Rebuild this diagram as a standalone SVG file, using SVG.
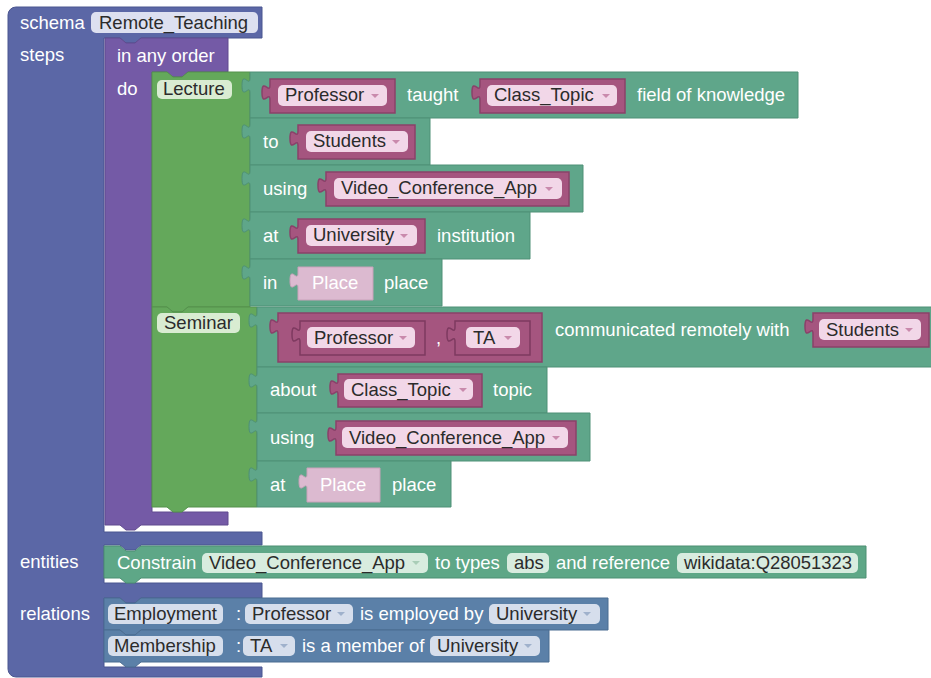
<svg xmlns="http://www.w3.org/2000/svg" width="931" height="678" viewBox="0 0 931 678">
<defs>
<style>
text{font-family:"Liberation Sans",Arial,Helvetica,sans-serif;font-size:18.5px}
.w{fill:#ffffff}
.d{fill:#2b2b2b}
.schema{fill:#5b67a6;stroke:#4b5690;stroke-width:1}
.order{fill:#745aa6;stroke:#614a8f;stroke-width:1}
.step{fill:#64a85b;stroke:#54914c;stroke-width:1}
.row{fill:#5fa68a;stroke:#4f9077;stroke-width:1}
.val{fill:#a5557f;stroke:#8a416a;stroke-width:1.5}
.slot{fill:#a5557f;stroke:#7e3a60;stroke-width:1.5}
.place{fill:#dcbad0;stroke:#c9a2ba;stroke-width:1}
.ent{fill:#5ea787;stroke:#4d8f72;stroke-width:1}
.rel{fill:#5b80a8;stroke:#4b6c91;stroke-width:1}
.pk{fill:#f2d7e8}
.pg{fill:#d8ecdf}
.pb{fill:#d6deec}
.ps{fill:#dde0f0}
.pl{fill:#d9ecd2}
.ak{fill:#c98aac}
.ag{fill:#a9cdb7}
.ab{fill:#9fb1cc}
</style>
<path id="arrow" d="M0,0h8l-4,4z"/>
</defs>

<!-- schema container -->
<g id="schema">
<path class="schema" d="M8,15a8,8 0 0 1 8,-8H262V38H141l-6,5h-9l-6,-5H104V532H262V545H141l-6,5h-9l-6,-5H104V583H262V598H141l-6,5h-9l-6,-5H104V667H262V677H16a8,8 0 0 1 -8,-8Z"/>
<text class="w" x="20" y="29">schema</text>
<rect class="ps" x="91" y="12" width="167" height="21" rx="5"/>
<text class="d" x="99" y="29">Remote_Teaching</text>
<text class="w" x="20" y="61">steps</text>
<text class="w" x="20" y="568">entities</text>
<text class="w" x="20" y="620">relations</text>
</g>

<!-- in any order -->
<g id="anyOrder">
<path class="order" d="M105,38H120l6,5h9l6,-5H228V72H188l-6,5h-9l-6,-5H152V512H228V525H141l-6,5h-9l-6,-5H105Z"/>
<text class="w" x="117" y="62">in any order</text>
<text class="w" x="117" y="95">do</text>
</g>

<!-- Lecture step -->
<g id="lecture">
<path class="step" d="M152,72H167l6,5h9l6,-5H250V307H188l-6,5h-9l-6,-5H152Z"/>
<rect class="pl" x="157" y="80" width="75" height="19" rx="5"/>
<text class="d" x="163" y="95">Lecture</text>
</g>

<!-- Seminar step -->
<g id="seminar">
<path class="step" d="M152,307H167l6,5h9l6,-5H257V507H188l-6,5h-9l-6,-5H152Z"/>
<rect class="pl" x="157" y="313" width="83" height="20" rx="5"/>
<text class="d" x="164" y="329">Seminar</text>
</g>

<!-- Lecture clauses -->
<g id="lecture-taught">
<path class="row" transform="translate(250,72)" d="M0,0H548V46H0V21c0,-10 -8,8 -8,-7.5s8,2.5 8,-7.5Z"/>
<path class="val" transform="translate(270,79)" d="M0,0H125V34H0V21c0,-10 -8,8 -8,-7.5s8,2.5 8,-7.5Z"/>
<rect class="pk" x="278" y="85" width="109" height="21" rx="5"/>
<text class="d" x="285" y="101">Professor</text>
<use href="#arrow" class="ak" x="371" y="94"/>
<text class="w" x="407" y="101">taught</text>
<path class="val" transform="translate(480,79)" d="M0,0H145V34H0V21c0,-10 -8,8 -8,-7.5s8,2.5 8,-7.5Z"/>
<rect class="pk" x="487" y="85" width="130" height="21" rx="5"/>
<text class="d" x="494" y="101">Class_Topic</text>
<use href="#arrow" class="ak" x="602" y="94"/>
<text class="w" x="637" y="101">field of knowledge</text>
</g>

<g id="lecture-to">
<path class="row" transform="translate(250,118)" d="M0,0H180V47H0V21c0,-10 -8,8 -8,-7.5s8,2.5 8,-7.5Z"/>
<text class="w" x="263" y="148">to</text>
<path class="val" transform="translate(298,125)" d="M0,0H117V34H0V21c0,-10 -8,8 -8,-7.5s8,2.5 8,-7.5Z"/>
<rect class="pk" x="306" y="131" width="102" height="21" rx="5"/>
<text class="d" x="313" y="147">Students</text>
<use href="#arrow" class="ak" x="392" y="140"/>
</g>

<g id="lecture-using">
<path class="row" transform="translate(250,165)" d="M0,0H333V47H0V21c0,-10 -8,8 -8,-7.5s8,2.5 8,-7.5Z"/>
<text class="w" x="263" y="195">using</text>
<path class="val" transform="translate(326,172)" d="M0,0H243V34H0V21c0,-10 -8,8 -8,-7.5s8,2.5 8,-7.5Z"/>
<rect class="pk" x="334" y="178" width="228" height="21" rx="5"/>
<text class="d" x="341" y="194">Video_Conference_App</text>
<use href="#arrow" class="ak" x="545" y="187"/>
</g>

<g id="lecture-at">
<path class="row" transform="translate(250,212)" d="M0,0H280V47H0V21c0,-10 -8,8 -8,-7.5s8,2.5 8,-7.5Z"/>
<text class="w" x="263" y="242">at</text>
<path class="val" transform="translate(298,219)" d="M0,0H127V34H0V21c0,-10 -8,8 -8,-7.5s8,2.5 8,-7.5Z"/>
<rect class="pk" x="306" y="225" width="111" height="21" rx="5"/>
<text class="d" x="313" y="241">University</text>
<use href="#arrow" class="ak" x="400" y="234"/>
<text class="w" x="437" y="242">institution</text>
</g>

<g id="lecture-in">
<path class="row" transform="translate(250,259)" d="M0,0H192V47H0V21c0,-10 -8,8 -8,-7.5s8,2.5 8,-7.5Z"/>
<text class="w" x="263" y="289">in</text>
<path class="place" transform="translate(298,267)" d="M0,0H75V33H0V21c0,-10 -8,8 -8,-7.5s8,2.5 8,-7.5Z"/>
<text class="w" x="312" y="289">Place</text>
<text class="w" x="384" y="289">place</text>
</g>

<!-- Seminar clauses -->
<g id="seminar-communicated">
<path class="row" transform="translate(257,307)" d="M0,0H680V60H0V21c0,-10 -8,8 -8,-7.5s8,2.5 8,-7.5Z"/>
<path class="val" transform="translate(278,313)" d="M0,0H264V49H0V21c0,-10 -8,8 -8,-7.5s8,2.5 8,-7.5Z"/>
<path class="slot" transform="translate(300,321)" d="M0,0H125V34H0V21c0,-10 -8,8 -8,-7.5s8,2.5 8,-7.5Z"/>
<rect class="pk" x="307" y="327" width="108" height="21" rx="5"/>
<text class="d" x="314" y="344">Professor</text>
<use href="#arrow" class="ak" x="399" y="336"/>
<text class="w" x="436" y="344">,</text>
<path class="slot" transform="translate(455,321)" d="M0,0H75V34H0V21c0,-10 -8,8 -8,-7.5s8,2.5 8,-7.5Z"/>
<rect class="pk" x="466" y="327" width="54" height="21" rx="5"/>
<text class="d" x="473" y="344">TA</text>
<use href="#arrow" class="ak" x="504" y="336"/>
<text class="w" x="555" y="336">communicated remotely with</text>
<path class="val" transform="translate(813,313)" d="M0,0H116V34H0V21c0,-10 -8,8 -8,-7.5s8,2.5 8,-7.5Z"/>
<rect class="pk" x="819" y="319" width="102" height="21" rx="5"/>
<text class="d" x="826" y="336">Students</text>
<use href="#arrow" class="ak" x="905" y="328"/>
</g>

<g id="seminar-about">
<path class="row" transform="translate(257,367)" d="M0,0H290V46H0V21c0,-10 -8,8 -8,-7.5s8,2.5 8,-7.5Z"/>
<text class="w" x="270" y="396">about</text>
<path class="val" transform="translate(338,374)" d="M0,0H144V33H0V21c0,-10 -8,8 -8,-7.5s8,2.5 8,-7.5Z"/>
<rect class="pk" x="344" y="379" width="129" height="21" rx="5"/>
<text class="d" x="351" y="396">Class_Topic</text>
<use href="#arrow" class="ak" x="459" y="388"/>
<text class="w" x="493" y="396">topic</text>
</g>

<g id="seminar-using">
<path class="row" transform="translate(257,413)" d="M0,0H333V48H0V21c0,-10 -8,8 -8,-7.5s8,2.5 8,-7.5Z"/>
<text class="w" x="270" y="444">using</text>
<path class="val" transform="translate(336,421)" d="M0,0H240V34H0V21c0,-10 -8,8 -8,-7.5s8,2.5 8,-7.5Z"/>
<rect class="pk" x="342" y="427" width="226" height="21" rx="5"/>
<text class="d" x="349" y="444">Video_Conference_App</text>
<use href="#arrow" class="ak" x="552" y="436"/>
</g>

<g id="seminar-at">
<path class="row" transform="translate(257,461)" d="M0,0H194V46H0V21c0,-10 -8,8 -8,-7.5s8,2.5 8,-7.5Z"/>
<text class="w" x="270" y="491">at</text>
<path class="place" transform="translate(307,468)" d="M0,0H73V34H0V21c0,-10 -8,8 -8,-7.5s8,2.5 8,-7.5Z"/>
<text class="w" x="320" y="491">Place</text>
<text class="w" x="392" y="491">place</text>
</g>

<!-- entity constraint -->
<g id="constrain">
<path class="ent" transform="translate(104,546)" d="M0,0H16l6,5h9l6,-5H762V32H37l-6,5h-9l-6,-5H0Z"/>
<text class="w" x="117" y="569">Constrain</text>
<rect class="pg" x="202" y="553" width="226" height="20" rx="5"/>
<text class="d" x="209" y="569">Video_Conference_App</text>
<use href="#arrow" class="ag" x="412" y="561"/>
<text class="w" x="435" y="569">to types</text>
<rect class="pg" x="507" y="553" width="42" height="20" rx="5"/>
<text class="d" x="514" y="569">abs</text>
<text class="w" x="556" y="569">and reference</text>
<rect class="pg" x="677" y="553" width="181" height="20" rx="5"/>
<text class="d" x="684" y="569" textLength="168" lengthAdjust="spacingAndGlyphs">wikidata:Q28051323</text>
</g>

<!-- relations -->
<g id="employment">
<path class="rel" transform="translate(104,598)" d="M0,0H16l6,5h9l6,-5H504V32H37l-6,5h-9l-6,-5H0Z"/>
<rect class="pb" x="108" y="604" width="115" height="20" rx="5"/>
<text class="d" x="114" y="620">Employment</text>
<text class="w" x="236" y="620">:</text>
<rect class="pb" x="245" y="604" width="108" height="20" rx="5"/>
<text class="d" x="252" y="620">Professor</text>
<use href="#arrow" class="ab" x="337" y="612"/>
<text class="w" x="360" y="620">is employed by</text>
<rect class="pb" x="489" y="604" width="111" height="20" rx="5"/>
<text class="d" x="496" y="620">University</text>
<use href="#arrow" class="ab" x="583" y="612"/>
</g>

<g id="membership">
<path class="rel" transform="translate(104,630)" d="M0,0H16l6,5h9l6,-5H445V32H37l-6,5h-9l-6,-5H0Z"/>
<rect class="pb" x="108" y="636" width="115" height="20" rx="5"/>
<text class="d" x="114" y="652">Membership</text>
<text class="w" x="236" y="652">:</text>
<rect class="pb" x="243" y="636" width="52" height="20" rx="5"/>
<text class="d" x="250" y="652">TA</text>
<use href="#arrow" class="ab" x="280" y="644"/>
<text class="w" x="302" y="652">is a member of</text>
<rect class="pb" x="430" y="636" width="110" height="20" rx="5"/>
<text class="d" x="437" y="652">University</text>
<use href="#arrow" class="ab" x="524" y="644"/>
</g>

<g id="connectors"/>
</svg>
